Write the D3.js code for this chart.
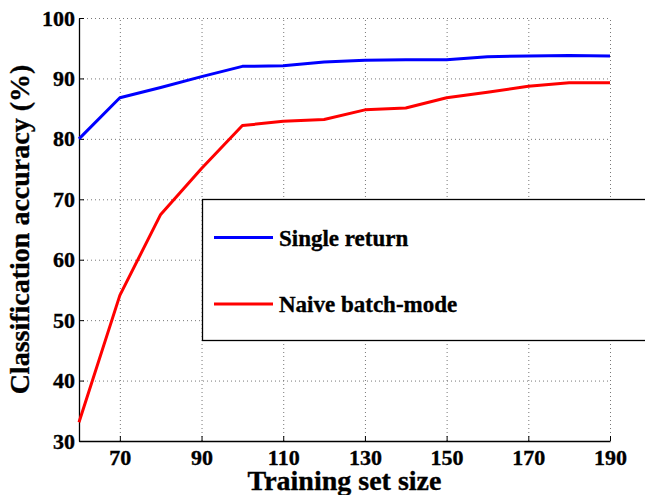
<!DOCTYPE html>
<html>
<head>
<meta charset="utf-8">
<script src="https://cdn.jsdelivr.net/npm/d3@7"></script>
<style>
  html, body { margin: 0; padding: 0; background: #fff; }
  svg { display: block; }
  text { font-family: "Liberation Serif", "Times New Roman", serif; font-weight: bold; fill: #000; stroke: #000; stroke-width: 0.35px; }
</style>
</head>
<body>
<svg id="chart" width="645" height="495"></svg>
<script>
// Training set sizes and accuracy (%) for each method
const trainingSizes = [60, 70, 80, 90, 100, 110, 120, 130, 140, 150, 160, 170, 180, 190];
const singleReturn  = [80.0, 86.8, 88.5, 90.3, 92.0, 92.1, 92.7, 93.0, 93.1, 93.1, 93.6, 93.7, 93.8, 93.7];
const naiveBatch    = [33.1, 54.1, 67.5, 75.1, 82.2, 82.9, 83.2, 84.8, 85.1, 86.8, 87.7, 88.7, 89.3, 89.3];

const xTickValues = [70, 90, 110, 130, 150, 170, 190];
const yTickValues = [30, 40, 50, 60, 70, 80, 90, 100];

const seriesNames  = ["Single return", "Naive batch-mode"];
const seriesColors = ["#0000ff", "#ff0000"];

const serif = "'Liberation Serif', 'Times New Roman', serif";
const svg = d3.select("#chart");

const x = d3.scaleLinear().domain([60, 190]).range([79, 610]);
const y = d3.scaleLinear().domain([30, 100]).range([441, 18]);

// dotted grid
const grid = svg.append("g").attr("stroke", "#777").attr("stroke-width", 1)
  .attr("stroke-dasharray", "1,3").attr("fill", "none");
grid.selectAll("line.gx").data(xTickValues).join("line")
  .attr("x1", d => x(d) + 0.5).attr("x2", d => x(d) + 0.5)
  .attr("y1", y(30)).attr("y2", y(100));
grid.selectAll("line.gy").data(yTickValues).join("line")
  .attr("y1", d => y(d) + 0.5).attr("y2", d => y(d) + 0.5)
  .attr("x1", x(60)).attr("x2", x(190));

// axes with inward ticks
const xAxis = svg.append("g").attr("transform", `translate(0,${y(30)})`)
  .call(d3.axisBottom(x).tickValues(xTickValues).tickSizeInner(-5).tickSizeOuter(0).tickPadding(8));
const yAxis = svg.append("g").attr("transform", `translate(${x(60)},0)`)
  .call(d3.axisLeft(y).tickValues(yTickValues).tickSizeInner(-5).tickSizeOuter(0).tickPadding(4));

[xAxis, yAxis].forEach(a => {
  a.attr("font-family", serif).attr("font-size", 22).attr("font-weight", "bold");
  a.select(".domain").attr("stroke", "#000").attr("stroke-width", 1.3);
  a.selectAll(".tick line").attr("stroke", "#000").attr("stroke-width", 1);
  a.selectAll(".tick text").style("font-size", "22px")
    .style("font-family", serif).style("font-weight", "bold").attr("fill", "#000");
});
xAxis.selectAll(".tick text").attr("dy", "0.71em");

// series lines
const line = d3.line().x((d, i) => x(trainingSizes[i])).y(d => y(d));
[singleReturn, naiveBatch].forEach((vals, k) => {
  svg.append("path").datum(vals)
    .attr("d", line)
    .attr("fill", "none")
    .attr("stroke", seriesColors[k])
    .attr("stroke-width", 3)
    .attr("stroke-linejoin", "round");
});

// axis titles
svg.append("text")
  .attr("x", (x(60) + x(190)) / 2).attr("y", 490)
  .attr("text-anchor", "middle")
  .style("font-size", "28px")
  .text("Training set size");

svg.append("text")
  .attr("transform", `translate(29,${(y(30) + y(100)) / 2}) rotate(-90)`)
  .attr("text-anchor", "middle")
  .style("font-size", "28px")
  .text("Classification accuracy (%)");

// legend
const legend = svg.append("g");
legend.append("rect")
  .attr("x", 202.5).attr("y", 199.5).attr("width", 460).attr("height", 141)
  .attr("fill", "#fff").attr("stroke", "#000").attr("stroke-width", 1.3);
const rowY = [237.5, 304];
seriesNames.forEach((name, k) => {
  legend.append("line")
    .attr("x1", 214).attr("x2", 273)
    .attr("y1", rowY[k]).attr("y2", rowY[k])
    .attr("stroke", seriesColors[k]).attr("stroke-width", 3);
  legend.append("text")
    .attr("x", 279).attr("y", rowY[k] + 8)
    .style("font-size", "23px")
    .text(name);
});
</script>
</body>
</html>
